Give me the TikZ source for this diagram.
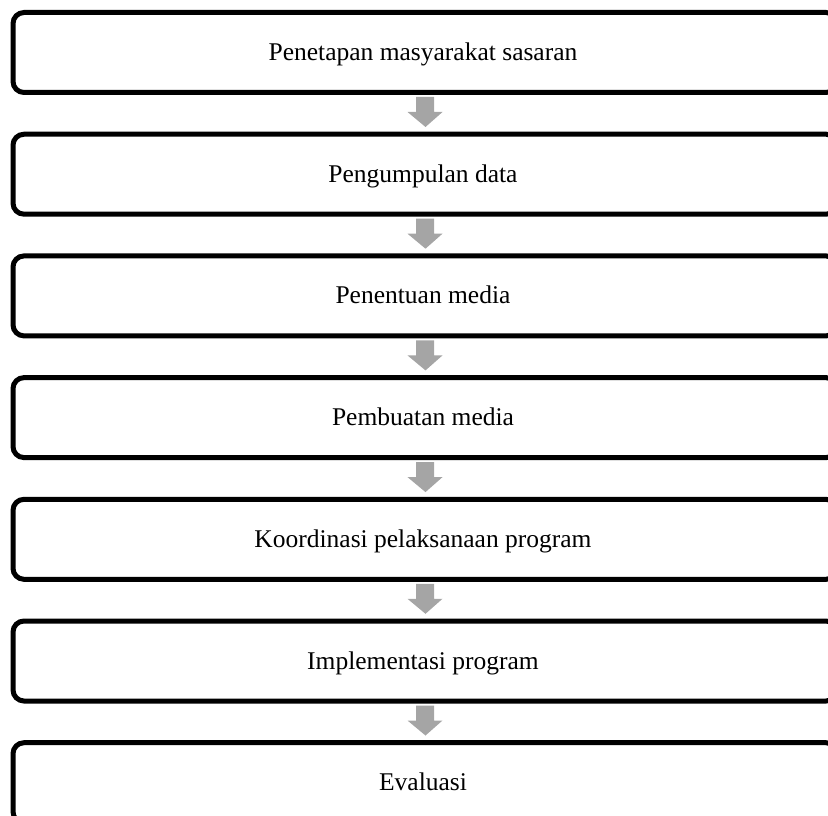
\documentclass[tikz,border=0pt]{standalone}
\usepackage{fontspec}
\setmainfont{Liberation Serif}
\usetikzlibrary{calc}
\definecolor{arrowgray}{HTML}{A5A5A5}
\begin{document}
\begin{tikzpicture}[x=1pt,y=-1pt,
  stepbox/.style={draw=black, line width=5pt, rounded corners=11pt,
    minimum width=824pt, minimum height=80pt, outer sep=0pt, inner sep=0pt},
  steplabel/.style={anchor=base, inner sep=0pt, font=\fontsize{25.5}{30}\selectfont},
  flowarrow/.style={fill=arrowgray, draw=none}]
\useasboundingbox (0,0) rectangle (828,816);
\clip (0,0) rectangle (828,816);
\foreach \i/\y/\txt in {1/52.5/Penetapan masyarakat sasaran,
                       2/174.2/Pengumpulan data,
                       3/295.9/Penentuan media,
                       4/417.6/Pembuatan media,
                       5/539.3/Koordinasi pelaksanaan program,
                       6/661/Implementasi program,
                       7/782.7/Evaluasi}{
  \node[stepbox] (b\i) at (425,\y) {};
  \node[steplabel] (t\i) at ($(b\i.center)+(-2,8)$) {\txt};
}
\foreach \i in {1,...,6}{
  \fill[flowarrow] ($(b\i.south)+(-9,4.5)$) -- ($(b\i.south)+(9,4.5)$)
    -- ($(b\i.south)+(9,19.5)$) -- ($(b\i.south)+(17.5,19.5)$)
    -- ($(b\i.south)+(0.5,34.5)$) -- ($(b\i.south)+(-17.5,19.5)$)
    -- ($(b\i.south)+(-9,19.5)$) -- cycle;
}
\end{tikzpicture}
\end{document}
